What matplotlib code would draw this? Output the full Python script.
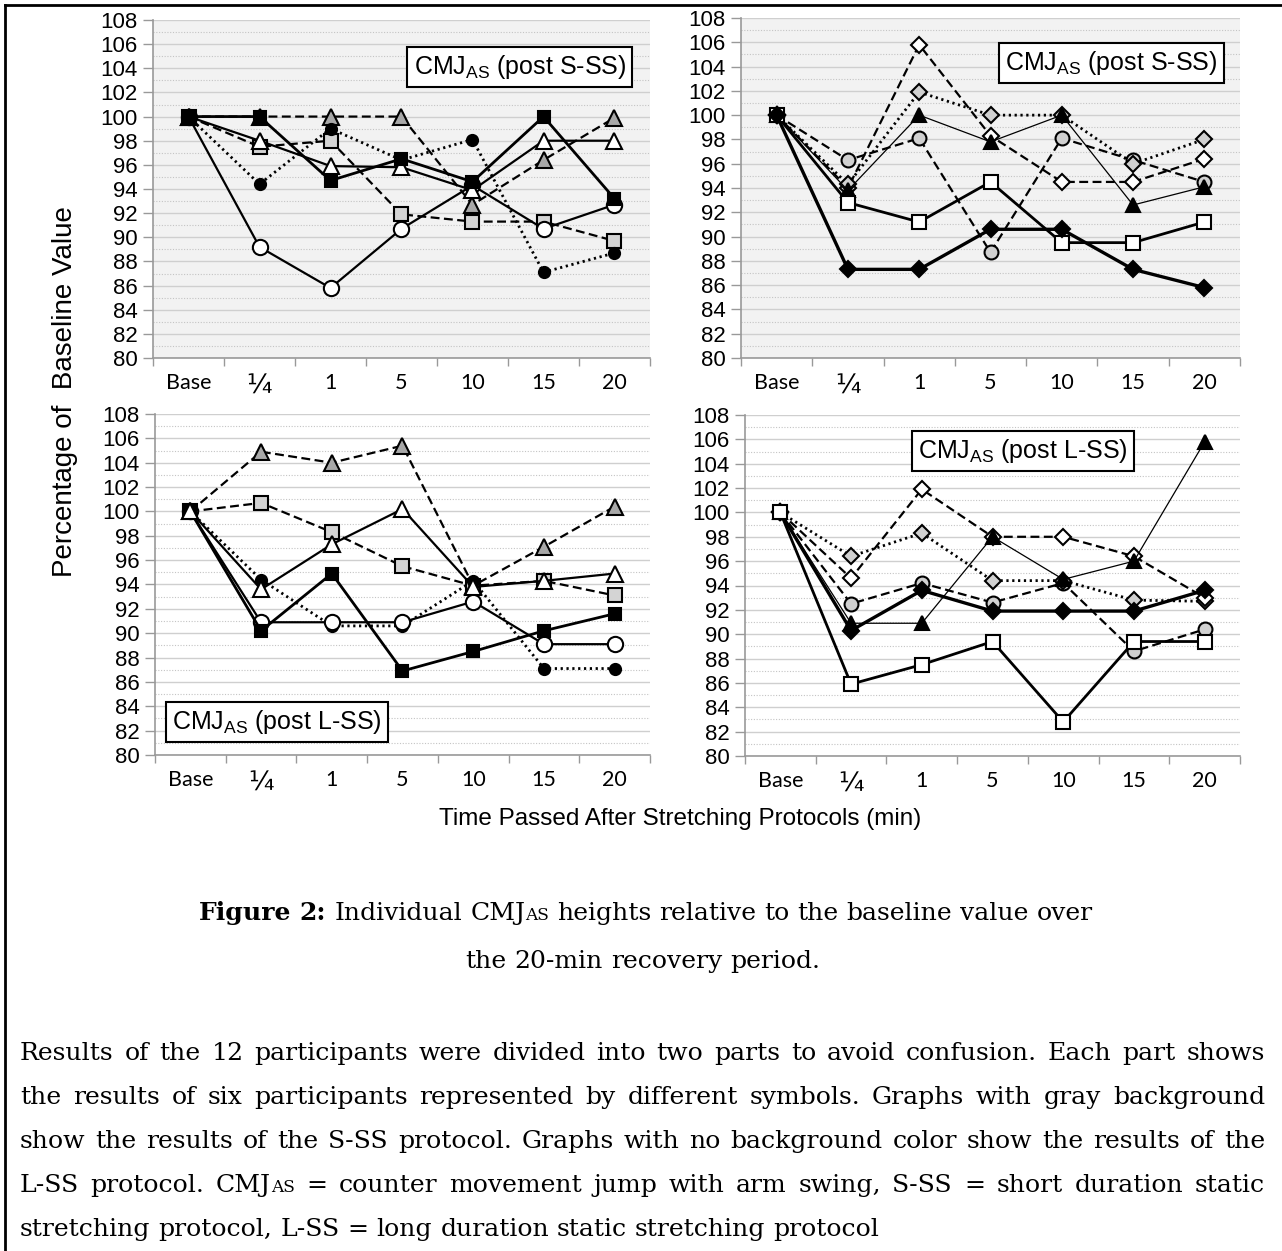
import matplotlib
matplotlib.use('Agg')
import matplotlib.pyplot as plt
from matplotlib.lines import Line2D
from matplotlib.ticker import MultipleLocator, FixedLocator

plt.rcParams['font.family'] = 'Liberation Sans'
plt.rcParams['mathtext.fontset'] = 'custom'
plt.rcParams['mathtext.rm'] = 'Liberation Sans'
plt.rcParams['mathtext.it'] = 'Liberation Sans:italic'
plt.rcParams['mathtext.bf'] = 'Liberation Sans:bold'

W, H = 1282, 1251

categories = ['Base', '¼', '1', '5', '10', '15', '20']

# S-SS, participants 1-6 (top left)
tl_black_square = [100, 100, 94.7, 96.5, 94.6, 100, 93.2]
tl_open_triangle = [100, 98.0, 95.9, 95.8, 93.9, 98.0, 98.0]
tl_gray_triangle = [100, 100, 100, 100, 92.7, 96.4, 99.9]
tl_gray_square = [100, 97.5, 98.0, 91.9, 91.3, 91.3, 89.7]
tl_black_circle = [100, 94.4, 99.0, 96.4, 98.1, 87.1, 88.7]
tl_open_circle = [100, 89.2, 85.8, 90.7, 94.3, 90.7, 92.7]

# S-SS, participants 7-12 (top right)
tr_black_diamond = [100, 87.3, 87.3, 90.6, 90.6, 87.3, 85.8]
tr_open_square = [100, 92.8, 91.2, 94.5, 89.5, 89.5, 91.2]
tr_gray_circle = [100, 96.3, 98.1, 88.7, 98.1, 96.3, 94.5]
tr_open_diamond = [100, 94.0, 105.8, 98.3, 94.5, 94.5, 96.4]
tr_gray_diamond = [100, 94.3, 101.9, 100, 100, 96.0, 98.0]
tr_black_triangle = [100, 93.8, 100, 97.8, 100, 92.6, 94.1]

# L-SS, participants 1-6 (bottom left)
bl_gray_triangle = [100, 104.9, 104.0, 105.4, 93.9, 97.1, 100.4]
bl_gray_square = [100, 100.7, 98.3, 95.5, 93.9, 94.3, 93.1]
bl_open_triangle = [100, 93.6, 97.3, 100.2, 93.8, 94.3, 94.9]
bl_black_square = [100, 90.2, 94.9, 86.9, 88.5, 90.2, 91.6]
bl_open_circle = [100, 90.9, 90.9, 90.9, 92.6, 89.1, 89.1]
bl_black_circle = [100, 94.4, 90.6, 90.6, 94.3, 87.1, 87.1]

# L-SS, participants 7-12 (bottom right)
br_open_square = [100, 85.9, 87.5, 89.4, 82.8, 89.4, 89.4]
br_black_diamond = [100, 90.3, 93.6, 91.9, 91.9, 91.9, 93.6]
br_black_triangle = [100, 90.9, 90.9, 98.0, 94.5, 96.0, 105.8]
br_open_diamond = [100, 94.6, 101.9, 98.0, 98.0, 96.4, 93.0]
br_gray_diamond = [100, 96.4, 98.3, 94.4, 94.4, 92.8, 92.7]
br_gray_circle = [100, 92.5, 94.2, 92.6, 94.2, 88.6, 90.4]

DASH = (0, (4, 2))
DOT = (0, (0.8, 1.3))
styles = {
    'black_square': dict(marker='s', mfc='black', ls='-', lw=2.0, ms=9),
    'open_square': dict(marker='s', mfc='white', ls='-', lw=2.0, ms=9.5),
    'gray_square': dict(marker='s', mfc='#d4d4d4', ls=DASH, lw=1.6, ms=9.5),
    'open_triangle': dict(marker='^', mfc='white', ls='-', lw=1.6, ms=11),
    'gray_triangle': dict(marker='^', mfc='#a8a8a8', ls=DASH, lw=1.6, ms=11),
    'black_triangle': dict(marker='^', mfc='black', ls='-', lw=0.9, ms=10),
    'black_circle': dict(marker='o', mfc='black', ls=DOT, lw=2.0, ms=8),
    'open_circle': dict(marker='o', mfc='white', ls='-', lw=1.6, ms=11),
    'gray_circle': dict(marker='o', mfc='#d0d0d0', ls=DASH, lw=1.6, ms=10),
    'black_diamond': dict(marker='D', mfc='black', ls='-', lw=2.4, ms=8),
    'open_diamond': dict(marker='D', mfc='white', ls=DASH, lw=1.6, ms=8),
    'gray_diamond': dict(marker='D', mfc='#d0d0d0', ls=DOT, lw=2.0, ms=8),
}

panels = [
    # (rect in px: left, top, right, bottom), gray bg, series, label box
    ((153, 20, 650, 358), True,
     [('gray_triangle', tl_gray_triangle), ('gray_square', tl_gray_square),
      ('black_circle', tl_black_circle), ('open_circle', tl_open_circle),
      ('open_triangle', tl_open_triangle), ('black_square', tl_black_square)],
     (0.738, 0.861, 'S-SS')),
    ((741, 18, 1240, 358), True,
     [('gray_circle', tr_gray_circle), ('open_diamond', tr_open_diamond),
      ('gray_diamond', tr_gray_diamond), ('black_triangle', tr_black_triangle),
      ('open_square', tr_open_square), ('black_diamond', tr_black_diamond)],
     (0.742, 0.868, 'S-SS')),
    ((155, 414, 650, 755), False,
     [('gray_triangle', bl_gray_triangle), ('gray_square', bl_gray_square),
      ('black_circle', bl_black_circle), ('open_circle', bl_open_circle),
      ('black_square', bl_black_square), ('open_triangle', bl_open_triangle)],
     (0.246, 0.097, 'L-SS')),
    ((745, 415, 1240, 756), False,
     [('gray_circle', br_gray_circle), ('gray_diamond', br_gray_diamond),
      ('open_diamond', br_open_diamond), ('black_triangle', br_black_triangle),
      ('black_diamond', br_black_diamond), ('open_square', br_open_square)],
     (0.562, 0.894, 'L-SS')),
]

fig = plt.figure(figsize=(W / 100, H / 100), dpi=100)

x = list(range(len(categories)))
for (l, t, r, b), gray, series, (bx, by, proto) in panels:
    ax = fig.add_axes([l / W, 1 - b / H, (r - l) / W, (b - t) / H])
    ax.set_facecolor('#f2f2f2' if gray else 'white')
    for name, vals in series:
        st = styles[name]
        ax.plot(x, vals, color='black', mec='black', mew=1.5,
                dash_capstyle='butt', **st)
    ax.set_xlim(-0.5, 6.5)
    ax.set_ylim(80, 108)
    ax.yaxis.set_major_locator(MultipleLocator(2))
    ax.yaxis.set_minor_locator(MultipleLocator(1))
    ax.xaxis.set_major_locator(FixedLocator(x))
    ax.xaxis.set_minor_locator(FixedLocator([i - 0.5 for i in range(8)]))
    ax.set_xticklabels(categories, family='Lato', fontsize=15.5)
    quarter = ax.get_xticklabels()[1]
    quarter.set_fontfamily('DejaVu Sans')
    quarter.set_fontsize(19)
    ax.tick_params(axis='x', which='major', length=0, pad=11)
    ax.tick_params(axis='x', which='minor', length=6, color='#999999', width=1)
    ax.tick_params(axis='y', which='major', length=7, color='#999999', width=1,
                   labelsize=16, pad=4)
    ax.tick_params(axis='y', which='minor', length=0)
    ax.grid(which='major', axis='y', color='#cfcfcf', lw=1.0)
    ax.grid(which='minor', axis='y', color='#c4c4c4', lw=0.8, ls=(0, (1, 1.5)))
    ax.set_axisbelow(True)
    for s in ('top', 'right'):
        ax.spines[s].set_visible(False)
    for s in ('left', 'bottom'):
        ax.spines[s].set_color('#999999')
        ax.spines[s].set_linewidth(1.2)
    ax.text(bx, by, r'CMJ$_{\mathrm{AS}}$ (post ' + proto + ')',
            transform=ax.transAxes, ha='center', va='center', fontsize=18,
            bbox=dict(boxstyle='square,pad=0.25', fc='white', ec='black', lw=1.5),
            zorder=10)

fig.text(65 / W, 1 - 392 / H, 'Percentage of  Baseline Value', rotation=90,
         ha='center', va='center', fontsize=20)
fig.text(680 / W, 1 - 819 / H, 'Time Passed After Stretching Protocols (min)',
         ha='center', va='center', fontsize=17.5)

# outer frame (top and left edges)
fig.add_artist(Line2D([5 / W, 1], [1 - 5 / H, 1 - 5 / H], transform=fig.transFigure,
                      color='black', lw=2))
fig.add_artist(Line2D([5 / W, 5 / W], [0, 1 - 5 / H], transform=fig.transFigure,
                      color='black', lw=2))

# caption and note text
renderer = fig.canvas.get_renderer()
SERIF = 'DejaVu Serif'


def measure(s, size, weight='normal'):
    t = fig.text(0, 0, s, fontsize=size, fontweight=weight, family=SERIF)
    w = t.get_window_extent(renderer).width
    t.remove()
    return w


def word_runs(word, size):
    if word.startswith('CMJAS'):
        return [('CMJ', size, 'normal'), ('AS', size * 0.68, 'normal'),
                (word[5:], size, 'normal')]
    return [(word, size, 'normal')]


def draw_word(runs, x, y):
    for s, size, weight in runs:
        if not s:
            continue
        fig.text(x / W, 1 - y / H, s, fontsize=size, fontweight=weight,
                 family=SERIF, va='baseline', ha='left')
        x += measure(s, size, weight)
    return x


def runs_width(runs):
    return sum(measure(s, sz, wt) for s, sz, wt in runs if s)


def line_words(size):
    return [[('Figure', size, 'bold')], [('2:', size, 'bold')]] + \
        [word_runs(w, size) for w in
         'Individual CMJAS heights relative to the baseline value over'.split()]


def natural_width(words):
    space = measure('a a', words[0][0][1]) - measure('aa', words[0][0][1])
    return sum(runs_width(w) for w in words) + space * (len(words) - 1)


def draw_line(words, y, left=None, right=None, center=None, justify=False):
    widths = [runs_width(w) for w in words]
    space = measure('a a', words[0][0][1]) - measure('aa', words[0][0][1])
    if justify:
        gap = (right - left - sum(widths)) / (len(words) - 1)
        xx = left
    else:
        gap = space
        total = sum(widths) + space * (len(words) - 1)
        xx = left if center is None else center - total / 2
    for w, wd in zip(words, widths):
        draw_word(w, xx, y)
        xx += wd + gap


# size the serif text so the first caption line spans about 892 px
CAP = 20 * 892 / natural_width(line_words(20))
BODY = CAP

draw_line(line_words(CAP), 920, center=646)
draw_line([word_runs(w, CAP) for w in 'the 20-min recovery period.'.split()],
          968, center=643)

note_lines = [
    'Results of the 12 participants were divided into two parts to avoid confusion. Each part shows',
    'the results of six participants represented by different symbols. Graphs with gray background',
    'show the results of the S-SS protocol. Graphs with no background color show the results of the',
    'L-SS protocol. CMJAS = counter movement jump with arm swing, S-SS = short duration static',
    'stretching protocol, L-SS = long duration static stretching protocol',
]
for i, line in enumerate(note_lines):
    words = [word_runs(w, BODY) for w in line.split()]
    y = 1060 + 44 * i
    if i < len(note_lines) - 1:
        draw_line(words, y, left=20, right=1265, justify=True)
    else:
        draw_line(words, y, left=20)

fig.savefig('out.png', dpi=100)
